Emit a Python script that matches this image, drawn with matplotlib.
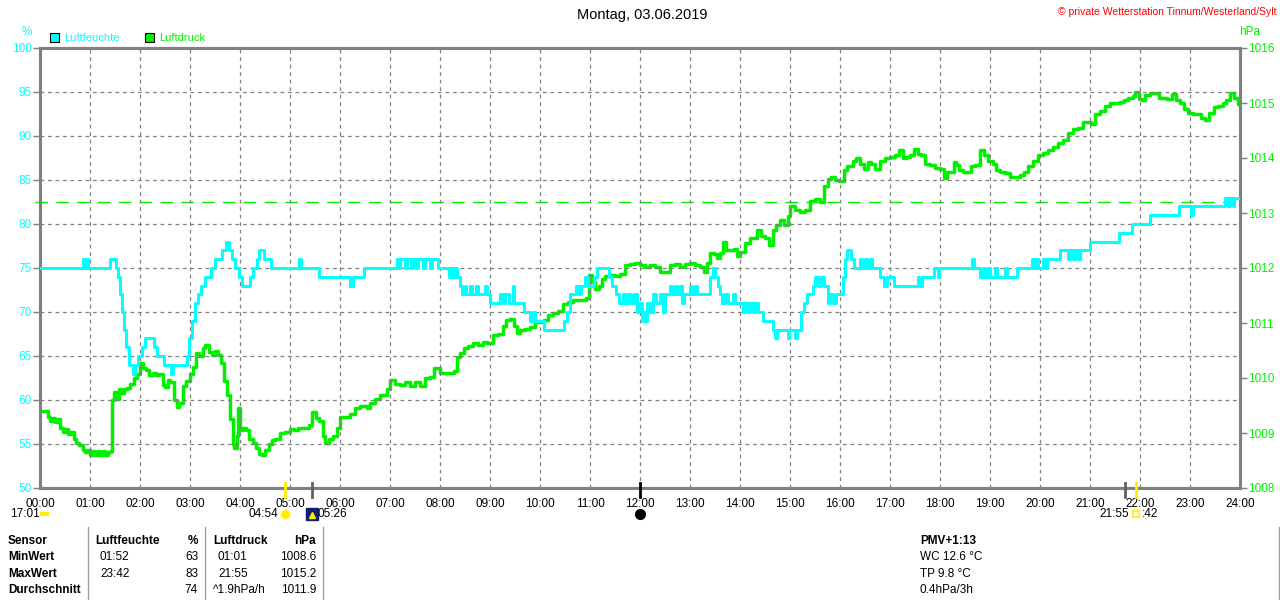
import numpy as np
import matplotlib
matplotlib.use("Agg")
import matplotlib.pyplot as plt
import matplotlib.transforms as mtransforms
from matplotlib.patches import Rectangle

plt.rcParams['font.family'] = ['Liberation Sans', 'DejaVu Sans']

# humidity (hour, %), drawn as steps
hum = [(0.00, 75), (0.86, 76), (0.89, 75), (0.91, 76), (0.95, 75),
       (1.40, 76), (1.52, 75), (1.56, 74), (1.60, 72), (1.64, 70), (1.68, 68), (1.72, 66),
       (1.77, 64), (1.85, 63), (1.89, 64), (1.95, 65), (2.03, 66), (2.09, 67), (2.27, 66),
       (2.33, 65), (2.47, 64), (2.62, 63), (2.66, 64),
       (2.93, 65), (2.98, 67), (3.04, 69), (3.10, 71), (3.16, 72), (3.22, 73), (3.30, 74),
       (3.42, 75), (3.50, 76), (3.63, 77), (3.72, 78), (3.78, 77), (3.84, 76), (3.90, 75),
       (3.97, 74), (4.03, 73), (4.20, 74), (4.27, 75), (4.33, 76), (4.38, 77), (4.47, 76),
       (4.62, 75), (5.18, 76), (5.22, 75), (5.58, 74), (6.20, 73), (6.26, 74), (6.47, 75),
       (7.13, 76), (7.17, 75), (7.20, 76), (7.30, 75), (7.34, 76), (7.42, 75), (7.46, 76),
       (7.52, 75), (7.56, 76), (7.66, 75), (7.70, 76), (7.80, 75), (7.84, 76), (7.96, 75),
       (8.17, 74), (8.21, 75), (8.25, 74), (8.30, 75), (8.33, 74), (8.40, 73), (8.45, 72),
       (8.49, 73), (8.53, 72), (8.60, 73), (8.64, 72), (8.72, 73), (8.76, 72), (8.90, 73),
       (8.94, 72), (9.00, 71), (9.20, 72), (9.26, 71), (9.30, 72), (9.38, 71), (9.45, 73),
       (9.48, 71), (9.67, 70), (9.80, 69), (9.86, 70), (9.90, 69), (10.07, 68), (10.47, 69),
       (10.53, 70), (10.60, 72), (10.72, 73), (10.77, 72), (10.82, 73), (10.90, 74),
       (10.95, 73), (11.07, 74), (11.13, 75), (11.37, 74), (11.43, 73), (11.52, 72),
       (11.58, 71), (11.65, 72), (11.70, 71), (11.75, 72), (11.82, 71), (11.87, 72),
       (11.93, 70), (11.98, 71),
       (12.03, 69), (12.07, 70), (12.10, 69), (12.13, 71), (12.20, 70), (12.25, 72),
       (12.32, 71), (12.40, 72), (12.45, 70), (12.50, 72), (12.60, 73), (12.63, 72),
       (12.70, 73), (12.74, 72), (12.80, 73), (12.84, 71), (12.88, 72), (13.00, 73),
       (13.04, 72), (13.10, 73), (13.14, 72), (13.40, 74), (13.45, 75), (13.50, 74),
       (13.55, 73), (13.60, 72), (13.64, 71), (13.70, 72), (13.75, 71), (13.85, 72),
       (13.90, 71), (14.05, 70), (14.10, 71), (14.15, 70), (14.20, 71), (14.25, 70),
       (14.30, 71), (14.35, 70), (14.45, 69), (14.65, 68), (14.70, 67), (14.73, 68),
       (14.95, 67), (14.98, 68), (15.10, 67), (15.14, 68), (15.22, 70), (15.27, 71),
       (15.33, 72), (15.45, 73), (15.50, 74), (15.55, 73), (15.62, 74), (15.68, 73),
       (15.75, 71), (15.80, 72), (15.86, 71), (15.92, 72), (16.05, 74), (16.10, 76),
       (16.15, 77), (16.22, 76), (16.28, 75), (16.40, 76), (16.44, 75), (16.50, 76),
       (16.54, 75), (16.60, 76), (16.64, 75), (16.80, 74), (16.88, 73), (16.93, 74),
       (17.07, 73), (17.55, 74), (17.58, 73), (17.65, 74), (17.87, 75), (17.95, 74),
       (17.98, 75), (18.65, 76), (18.68, 75), (18.80, 74), (18.85, 75), (18.90, 74),
       (18.95, 75), (19.00, 74), (19.10, 75), (19.14, 74), (19.30, 75), (19.34, 74),
       (19.53, 75), (19.83, 76), (19.87, 75), (19.92, 76), (19.96, 75), (20.05, 76),
       (20.10, 75), (20.13, 76), (20.40, 77), (20.55, 76), (20.60, 77), (20.65, 76),
       (20.70, 77), (20.75, 76), (20.80, 77), (21.00, 78), (21.57, 79), (21.83, 80),
       (22.20, 81), (22.77, 82), (23.02, 81), (23.05, 82), (23.70, 83), (23.75, 82),
       (23.80, 83), (23.85, 82), (23.88, 83), (24.00, 83)]

# pressure (hour, hPa)
press = [(0.00, 1009.40), (0.10, 1009.40), (0.15, 1009.30), (0.20, 1009.22), (0.25, 1009.28),
         (0.30, 1009.20), (0.35, 1009.26), (0.40, 1009.10), (0.45, 1009.02), (0.50, 1009.08),
         (0.55, 1008.98), (0.62, 1009.02), (0.67, 1008.90), (0.72, 1008.82), (0.78, 1008.78),
         (0.85, 1008.70), (0.90, 1008.66), (0.95, 1008.70), (1.00, 1008.60), (1.05, 1008.68),
         (1.10, 1008.60), (1.15, 1008.68), (1.20, 1008.60), (1.25, 1008.68), (1.30, 1008.60),
         (1.35, 1008.66), (1.42, 1008.68), (1.44, 1009.60), (1.48, 1009.75), (1.52, 1009.62),
         (1.57, 1009.80), (1.62, 1009.72), (1.68, 1009.80), (1.73, 1009.82), (1.80, 1009.90),
         (1.87, 1010.00), (1.93, 1010.08), (2.00, 1010.28), (2.05, 1010.18), (2.12, 1010.15),
         (2.18, 1010.05), (2.25, 1010.10), (2.32, 1010.05), (2.38, 1010.08), (2.45, 1009.88),
         (2.50, 1009.84), (2.55, 1009.96), (2.60, 1009.92), (2.67, 1009.60), (2.73, 1009.48),
         (2.78, 1009.55), (2.85, 1009.85), (2.92, 1009.95), (3.00, 1010.08), (3.06, 1010.20),
         (3.12, 1010.45), (3.18, 1010.40), (3.25, 1010.55), (3.30, 1010.60), (3.37, 1010.48),
         (3.43, 1010.42), (3.50, 1010.50), (3.56, 1010.42), (3.62, 1010.28), (3.68, 1009.95),
         (3.74, 1009.70), (3.80, 1009.25), (3.85, 1008.80), (3.88, 1008.72), (3.93, 1008.95),
         (3.96, 1009.45), (3.99, 1009.05), (4.05, 1009.10), (4.12, 1009.05), (4.18, 1008.90),
         (4.25, 1008.82), (4.32, 1008.72), (4.38, 1008.62), (4.43, 1008.60), (4.50, 1008.70),
         (4.57, 1008.80), (4.63, 1008.88), (4.70, 1008.90), (4.80, 1009.00), (4.90, 1009.02),
         (5.00, 1009.08), (5.07, 1009.05), (5.15, 1009.10), (5.30, 1009.10), (5.37, 1009.15),
         (5.43, 1009.38), (5.52, 1009.28), (5.58, 1009.22), (5.65, 1008.95), (5.70, 1008.82),
         (5.78, 1008.90), (5.85, 1008.94), (5.93, 1009.10), (6.00, 1009.30), (6.10, 1009.30),
         (6.20, 1009.34), (6.30, 1009.45), (6.40, 1009.50), (6.53, 1009.45), (6.60, 1009.55),
         (6.70, 1009.62), (6.80, 1009.70), (6.93, 1009.80), (7.00, 1009.96), (7.10, 1009.90),
         (7.20, 1009.88), (7.30, 1009.92), (7.40, 1009.85), (7.50, 1009.92), (7.60, 1009.85),
         (7.70, 1010.00), (7.80, 1010.02), (7.87, 1010.18), (7.93, 1010.18), (8.00, 1010.10),
         (8.15, 1010.10), (8.27, 1010.12), (8.33, 1010.38), (8.40, 1010.45), (8.47, 1010.55),
         (8.55, 1010.58), (8.65, 1010.64), (8.75, 1010.60), (8.85, 1010.66), (8.95, 1010.64),
         (9.05, 1010.78), (9.15, 1010.80), (9.25, 1010.95), (9.32, 1011.05), (9.40, 1011.08),
         (9.47, 1010.95), (9.53, 1010.82), (9.60, 1010.88), (9.70, 1010.90), (9.80, 1010.92),
         (9.90, 1011.02), (10.00, 1011.02), (10.07, 1011.05), (10.15, 1011.15), (10.25, 1011.18),
         (10.35, 1011.22), (10.45, 1011.35), (10.55, 1011.38), (10.65, 1011.42), (10.80, 1011.42),
         (10.92, 1011.45), (10.97, 1011.87), (11.03, 1011.75), (11.10, 1011.62), (11.17, 1011.68),
         (11.23, 1011.80), (11.30, 1011.85), (11.40, 1011.88), (11.50, 1011.85), (11.60, 1011.90),
         (11.70, 1012.05), (11.80, 1012.08), (11.90, 1012.10), (12.00, 1012.05),
         (12.10, 1012.02), (12.20, 1012.06), (12.30, 1012.02), (12.40, 1011.93), (12.50, 1011.92),
         (12.60, 1012.05), (12.70, 1012.07), (12.80, 1012.02), (12.90, 1012.07), (13.00, 1012.10),
         (13.10, 1012.05), (13.20, 1012.02), (13.27, 1011.92), (13.33, 1012.10), (13.40, 1012.28),
         (13.47, 1012.25), (13.53, 1012.18), (13.60, 1012.28), (13.65, 1012.48), (13.72, 1012.33),
         (13.80, 1012.33), (13.88, 1012.35), (13.93, 1012.22), (14.00, 1012.30), (14.10, 1012.45),
         (14.20, 1012.55), (14.33, 1012.70), (14.42, 1012.58), (14.50, 1012.55), (14.57, 1012.42),
         (14.65, 1012.70), (14.72, 1012.78), (14.80, 1012.88), (14.87, 1012.78), (14.95, 1012.95),
         (15.00, 1013.13), (15.10, 1013.05), (15.20, 1013.02), (15.30, 1013.05), (15.40, 1013.22),
         (15.50, 1013.25), (15.60, 1013.20), (15.67, 1013.50), (15.75, 1013.62), (15.82, 1013.66),
         (15.90, 1013.60), (15.97, 1013.58), (16.07, 1013.78), (16.15, 1013.85), (16.25, 1013.95),
         (16.33, 1014.00), (16.40, 1013.90), (16.47, 1013.80), (16.55, 1013.92), (16.62, 1013.90),
         (16.70, 1013.80), (16.80, 1013.95), (16.90, 1014.00), (17.00, 1014.02), (17.10, 1014.05),
         (17.17, 1014.15), (17.25, 1014.00), (17.33, 1014.02), (17.40, 1014.05), (17.47, 1014.17),
         (17.55, 1014.08), (17.62, 1014.05), (17.70, 1013.90), (17.80, 1013.88), (17.90, 1013.82),
         (18.00, 1013.80), (18.07, 1013.63), (18.15, 1013.75), (18.27, 1013.92), (18.33, 1013.88),
         (18.37, 1013.78), (18.45, 1013.75), (18.53, 1013.75), (18.62, 1013.86), (18.70, 1013.88),
         (18.80, 1014.15), (18.88, 1014.05), (18.95, 1013.95), (19.05, 1013.90), (19.12, 1013.78),
         (19.20, 1013.75), (19.30, 1013.72), (19.40, 1013.66), (19.50, 1013.65), (19.60, 1013.70),
         (19.67, 1013.75), (19.75, 1013.85), (19.85, 1013.95), (19.95, 1014.05), (20.05, 1014.10),
         (20.15, 1014.15), (20.25, 1014.20), (20.35, 1014.27), (20.45, 1014.32), (20.55, 1014.45),
         (20.65, 1014.52), (20.75, 1014.55), (20.85, 1014.65), (20.95, 1014.66), (21.02, 1014.62),
         (21.10, 1014.80), (21.20, 1014.85), (21.30, 1014.95), (21.40, 1015.00), (21.50, 1015.00),
         (21.60, 1015.02), (21.67, 1015.06), (21.75, 1015.10), (21.85, 1015.12), (21.90, 1015.20),
         (21.97, 1015.08), (22.03, 1015.05), (22.10, 1015.14), (22.20, 1015.18), (22.30, 1015.18),
         (22.37, 1015.10), (22.45, 1015.10), (22.53, 1015.08), (22.63, 1015.16), (22.72, 1015.05),
         (22.80, 1015.00), (22.88, 1014.90), (22.95, 1014.82), (23.05, 1014.80), (23.15, 1014.80),
         (23.22, 1014.72), (23.30, 1014.70), (23.38, 1014.82), (23.47, 1014.92), (23.55, 1014.95),
         (23.65, 1015.00), (23.72, 1015.05), (23.80, 1015.18), (23.87, 1015.10), (23.95, 1014.98),
         (24.00, 1014.95)]

ref_pressure = 1013.2
hour_labels = ["%02d:00" % h for h in range(25)]
hum_ticks = list(range(50, 101, 5))
press_ticks = list(range(1008, 1017))

# sun / moon events (hours)
sunrise, moonrise = 4.9, 5.433
sunset, moonset = 21.917, 21.7
noon = 12.0

table_head = ["Sensor", "Luftfeuchte", "%", "Luftdruck", "hPa"]
table_rows = [["MinWert", "01:52", "63", "01:01", "1008.6"],
              ["MaxWert", "23:42", "83", "21:55", "1015.2"],
              ["Durchschnitt", "", "74", "^1.9hPa/h", "1011.9"]]
extra = ["PMV+1:13", "WC 12.6 °C", "TP 9.8 °C", "0.4hPa/3h"]

CYAN = "#00ffff"
GREEN = "#00f000"
GREY = "#808080"

fig = plt.figure(figsize=(12.8, 6), dpi=100)
ax = fig.add_axes([40 / 1280, 112 / 600, 1200 / 1280, 440 / 600])
ax2 = ax.twinx()

ht, hv = zip(*hum)
pt, pv = zip(*press)
ax2.plot(pt, pv, color=GREEN, lw=2.5, drawstyle="steps-post", zorder=3)
ax2.axhline(ref_pressure, color=GREEN, lw=1.0, dashes=(9, 6), xmin=-0.004, clip_on=False)
ax.plot(ht, hv, color=CYAN, lw=2.2, drawstyle="steps-post", zorder=4)
ax.set_zorder(ax2.get_zorder() + 1)
ax.patch.set_visible(False)

ax.set_xlim(0, 24)
ax.set_ylim(50, 100)
ax2.set_ylim(1008, 1016)
ax.set_xticks(range(25))
ax.set_xticklabels(hour_labels)
ax.set_yticks(hum_ticks)
ax2.set_yticks(press_ticks)
ax.grid(True, color=GREY, lw=0.9, ls=(0, (3, 3)))

for a in (ax, ax2):
    for s in a.spines.values():
        s.set_color(GREY)
        s.set_linewidth(2.2)
ax.tick_params(axis="x", length=0, pad=7, labelsize=8.5, labelcolor="black")
ax.tick_params(axis="y", length=5, width=1, color=GREY, pad=1, labelsize=8.5, labelcolor=CYAN)
ax2.tick_params(axis="y", length=5, width=1, color=GREY, pad=1, labelsize=8.5, labelcolor=GREEN)

# sun / moon tick marks on the time axis
bt = mtransforms.blended_transform_factory(ax.transData, ax.transAxes)
for t, c in [(sunrise, "#ffee00"), (sunset, "#ffee00"), (moonrise, "#606060"), (moonset, "#606060")]:
    ax.plot([t, t], [-0.02, 0.012], color=c, lw=2, transform=bt, clip_on=False, zorder=6)
ax.plot([noon, noon], [-0.02, 0.012], color="black", lw=2, transform=bt, clip_on=False, zorder=6)
ax.plot([sunrise], [-0.059], marker="o", ms=7, color="#ffee00", mec="#fff6a0", transform=bt, clip_on=False)
ax.plot([moonrise], [-0.059], marker="s", ms=8, color="#102070", mec="#102070", transform=bt, clip_on=False)
ax.plot([moonrise], [-0.062], marker="^", ms=4, color="#ffee00", transform=bt, clip_on=False)
ax.plot([noon], [-0.059], marker="o", ms=7, color="black", transform=bt, clip_on=False)
ax.plot([sunset], [-0.059], marker="s", ms=5, mfc="white", mec="#ffee00", mew=1.2, transform=bt, clip_on=False)
ax.text(sunrise - 0.14, -0.059, "04:54", ha="right", va="center", fontsize=8.5, transform=bt)
ax.text(moonrise + 0.12, -0.059, "05:26", ha="left", va="center", fontsize=8.5, transform=bt)
ax.text(sunset - 0.13, -0.059, "21:55", ha="right", va="center", fontsize=8.5, transform=bt)
ax.text(sunset + 0.12, -0.059, ":42", ha="left", va="center", fontsize=8.5, transform=bt)

# overlay in pixel coords for texts, legend and table
ov = fig.add_axes([0, 0, 1, 1])
ov.set_xlim(0, 1280)
ov.set_ylim(600, 0)
ov.axis("off")
ov.patch.set_alpha(0)

ov.text(642, 15, "Montag, 03.06.2019", ha="center", va="center", fontsize=10.5)
ov.text(1277, 12, "© private Wetterstation Tinnum/Westerland/Sylt", ha="right", va="center",
        fontsize=7.5, color="red")
ov.text(27, 32, "%", ha="center", va="center", fontsize=8.5, color=CYAN)
ov.text(1250, 32, "hPa", ha="center", va="center", fontsize=8.5, color=GREEN)
ov.add_patch(Rectangle((50, 33), 9, 9, fc=CYAN, ec="black", lw=0.8))
ov.text(64, 38, "Luftfeuchte", va="center", fontsize=8, color=CYAN)
ov.add_patch(Rectangle((145, 33), 9, 9, fc=GREEN, ec="black", lw=0.8))
ov.text(159, 38, "Luftdruck", va="center", fontsize=8, color=GREEN)

ov.text(10, 514, "17:01", va="center", fontsize=8.5)
ov.add_patch(Rectangle((40, 512), 9, 4, fc="#ffee00", ec="none"))

fs = 8.5
rows_y = [541, 557, 574, 590]
ov.text(8, rows_y[0], table_head[0], va="center", fontsize=fs, fontweight="bold")
ov.text(95, rows_y[0], table_head[1], va="center", fontsize=fs, fontweight="bold")
ov.text(198, rows_y[0], table_head[2], ha="right", va="center", fontsize=fs, fontweight="bold")
ov.text(213, rows_y[0], table_head[3], va="center", fontsize=fs, fontweight="bold")
ov.text(316, rows_y[0], table_head[4], ha="right", va="center", fontsize=fs, fontweight="bold")
for y, r in zip(rows_y[1:], table_rows):
    ov.text(8, y, r[0], va="center", fontsize=fs, fontweight="bold")
    ov.text(100, y, r[1], va="center", fontsize=fs)
    ov.text(198, y, r[2], ha="right", va="center", fontsize=fs)
    ov.text(213 if r[3].startswith("^") else 218, y, r[3], va="center", fontsize=fs)
    ov.text(316, y, r[4], ha="right", va="center", fontsize=fs)
for x in (88, 205, 323, 1279):
    ov.plot([x, x], [527, 600], color="#a0a0a0", lw=1)
for i, (y, s) in enumerate(zip(rows_y, extra)):
    ov.text(920, y, s, va="center", fontsize=fs, fontweight="bold" if i == 0 else "normal")

fig.savefig("out.png", dpi=100)
